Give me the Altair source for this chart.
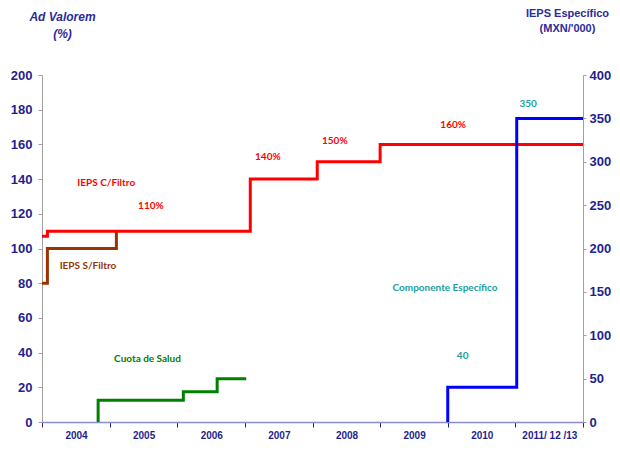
import altair as alt
import pandas as pd

# ---- data ----
years = ["2004", "2005", "2006", "2007", "2008", "2009", "2010", "2011/ 12 /13"]

# Ad valorem series (left axis, %)
red_x = [0, 0.08, 3.08, 4.07, 5.0, 8.0]
red_y = [107, 110, 140, 150, 160, 160]
brown_x = [0, 0.08, 1.10]
brown_y = [80, 100, 110]
green_x = [0.83, 0.83, 2.09, 2.59, 3.02]
green_y = [0, 12.5, 17.5, 25, 25]

# Specific component (right axis, MXN/'000)
blue_x = [6.0, 6.0, 7.02, 8.0]
blue_y = [0, 40, 350, 350]

# annotations (left scale)
lab_text = ["IEPS C/Filtro", "110%", "140%", "150%", "160%", "IEPS S/Filtro", "Cuota de Salud"]
lab_x = [0.95, 1.61, 3.34, 4.33, 6.08, 0.68, 1.56]
lab_y = [137.8, 124.5, 152.7, 162.0, 171.2, 90.0, 36.5]
lab_series = ["red", "red", "red", "red", "red", "brown", "green"]

# annotations (right scale)
rlab_text = ["Componente Específico", "40", "350"]
rlab_x = [5.96, 6.22, 7.19]
rlab_y = [155, 76, 367]

NAVY = "#1f1f8f"
AXFONT = "Liberation Sans"
series_names = ["red", "brown", "green"]
series_colors = ["#ff0000", "#993300", "#008000"]
text_colors = ["#ff2020", "#8b2a10", "#3c8c00"]

rows = []
for name, xs, ys in [("red", red_x, red_y), ("brown", brown_x, brown_y), ("green", green_x, green_y)]:
    for i, (a, b) in enumerate(zip(xs, ys)):
        rows.append({"series": name, "x": a, "y": b, "i": i})
left_df = pd.DataFrame(rows)
blue_df = pd.DataFrame({"x": blue_x, "y": blue_y, "i": list(range(len(blue_x)))})
lab_df = pd.DataFrame({"t": lab_text, "x": lab_x, "y": lab_y, "series": lab_series})
rlab_df = pd.DataFrame({"t": rlab_text, "x": rlab_x, "y": rlab_y})

label_expr = ""
for k, yname in enumerate(years):
    label_expr += f"datum.value == {k} ? '{yname}' : "
label_expr += "''"

x_enc = alt.X(
    "x:Q",
    scale=alt.Scale(domain=[0, 8], nice=False, zero=False),
    axis=alt.Axis(
        values=list(range(9)), labelExpr=label_expr, title=None, grid=False,
        domainColor="#8c8cd0", domainWidth=1.5, tickColor=NAVY, tickSize=5,
        labelOffset=34, labelPadding=3, labelColor=NAVY, labelFont=AXFONT,
        labelFontWeight="bold", labelFontSize=10, labelFlush=False, labelOverlap=False,
    ),
)

left_y = alt.Y(
    "y:Q",
    scale=alt.Scale(domain=[0, 200], nice=False),
    axis=alt.Axis(
        values=list(range(0, 201, 20)), grid=False, domainColor="#a0a0a0", tickColor="#a0a0a0",
        tickSize=4, labelPadding=6, labelColor=NAVY, labelFont=AXFONT, labelOverlap=False,
        labelFontWeight="bold", labelFontSize=13,
        title=["Ad Valorem", "(%)"], titleAngle=0, titleAlign="center", titleBaseline="top",
        titleX=20, titleY=-64, titleColor="#2b2b9b", titleFont=AXFONT,
        titleFontStyle="italic", titleFontWeight="bold", titleFontSize=12, titleLineHeight=17,
    ),
)

color_scale = alt.Scale(domain=series_names, range=series_colors)

left_lines = alt.Chart(left_df).mark_line(interpolate="step-after", strokeWidth=3).encode(
    x=x_enc, y=left_y,
    color=alt.Color("series:N", scale=color_scale, legend=None),
    detail="series:N", order=alt.Order("i:Q"),
)

left_text = alt.Chart(lab_df).mark_text(font="Lato", fontWeight="bold", fontSize=10).encode(
    x=x_enc, y=left_y, text="t:N",
    color=alt.Color("series:N", scale=alt.Scale(domain=series_names, range=text_colors), legend=None),
)

left = alt.layer(left_lines, left_text)

right_y = alt.Y(
    "y:Q",
    scale=alt.Scale(domain=[0, 400], nice=False),
    axis=alt.Axis(
        orient="right", values=list(range(0, 401, 50)), grid=False, domainColor="#a0a0a0",
        tickColor="#a0a0a0", tickSize=3, labelPadding=3, labelColor=NAVY, labelOverlap=False,
        labelFont=AXFONT, labelFontWeight="bold", labelFontSize=13,
        title=["IEPS Específico", "(MXN/'000)"], titleAngle=0, titleAlign="center",
        titleBaseline="top", titleX=-16, titleY=-68, titleColor="#2b2b9b",
        titleFont=AXFONT, titleFontWeight="bold", titleFontSize=11, titleLineHeight=15,
    ),
)

blue_line = alt.Chart(blue_df).mark_line(interpolate="step-after", strokeWidth=3, color="#0000ff").encode(
    x=x_enc, y=right_y, order=alt.Order("i:Q"),
)
right_text = alt.Chart(rlab_df).mark_text(font="Lato", fontWeight="bold", fontSize=10, color="#20a0a0").encode(
    x=x_enc, y=right_y, text="t:N",
)
right = alt.layer(blue_line, right_text)

chart = alt.layer(left, right).resolve_scale(y="independent", color="independent").properties(
    width=541, height=347,
    autosize=alt.AutoSizeParams(type="none"),
    padding={"left": 34, "top": 67, "right": 29, "bottom": 20},
    background="white",
).configure_view(stroke=None)

chart.save("out.html", embed_options={"renderer": "svg", "actions": False})
